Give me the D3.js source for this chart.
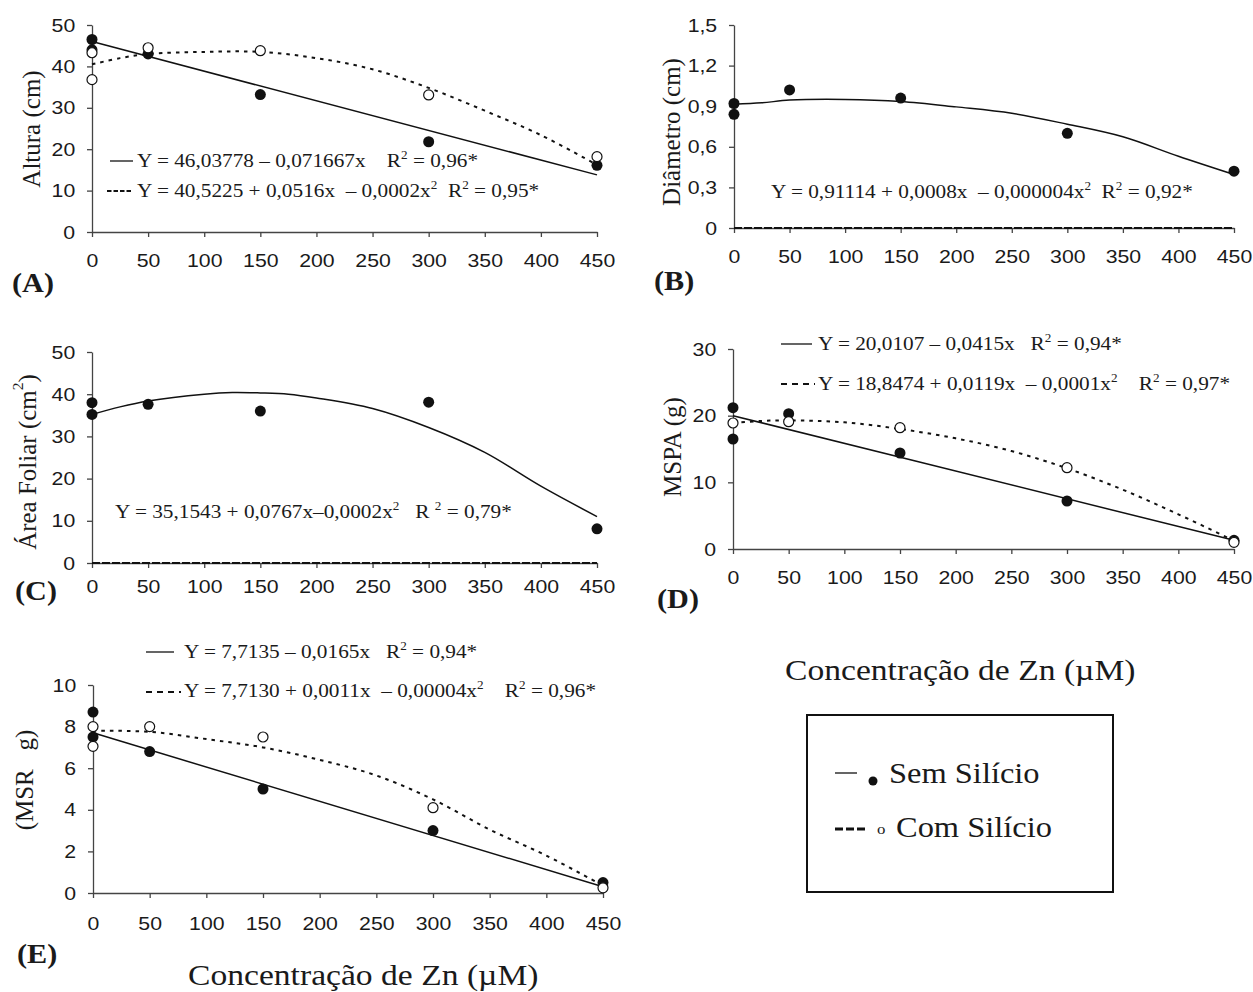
<!DOCTYPE html>
<html>
<head>
<meta charset="utf-8">
<script src="https://cdn.jsdelivr.net/npm/d3@7"></script>
<style>
  body { margin: 0; background: #fff; }
  svg text { white-space: pre; }
</style>
</head>
<body>
<svg id="fig" width="1253" height="992"></svg>
<script>
// Zn concentration ticks (µM)
var xTicks = [0, 50, 100, 150, 200, 250, 300, 350, 400, 450];

// (A) Altura (cm)
var altSemX = [0, 0, 50, 150, 300, 450];
var altSemY = [46.5, 44.0, 43.0, 33.2, 21.8, 16.1];
var altComX = [0, 0, 50, 150, 300, 450];
var altComY = [43.3, 36.8, 44.5, 43.8, 33.1, 18.2];
var altSemFitX = [0, 450];
var altSemFitY = [46.0, 13.8];
var altComFitX = [0, 25, 50, 100, 150, 200, 250, 300, 350, 400, 450];
var altComFitY = [40.5, 42.0, 43.0, 43.5, 43.5, 42.0, 39.3, 34.8, 29.3, 23.4, 16.2];

// (B) Diametro (cm)
var diaSemX = [0, 0, 50, 150, 300, 450];
var diaSemY = [0.92, 0.84, 1.02, 0.96, 0.70, 0.42];
var diaSemFitX = [0, 25, 50, 100, 150, 200, 250, 300, 350, 400, 450];
var diaSemFitY = [0.915, 0.925, 0.945, 0.95, 0.935, 0.895, 0.848, 0.767, 0.674, 0.53, 0.395];
var diaComFitX = [0, 450];
var diaComFitY = [0, 0];

// (C) Area foliar (cm2)
var afSemX = [0, 0, 50, 150, 300, 450];
var afSemY = [38.0, 35.2, 37.6, 36.0, 38.1, 8.1];
var afSemFitX = [0, 25, 50, 100, 125, 150, 175, 200, 250, 300, 350, 400, 450];
var afSemFitY = [35.2, 37.0, 38.4, 40.0, 40.4, 40.3, 40.0, 39.1, 36.6, 32.1, 26.2, 18.2, 11.0];
var afComFitX = [0, 450];
var afComFitY = [0, 0];

// (D) MSPA (g)
var mspaSemX = [0, 0, 50, 150, 300, 450];
var mspaSemY = [21.2, 16.5, 20.3, 14.4, 7.2, 1.3];
var mspaComX = [0, 50, 150, 300, 450];
var mspaComY = [18.9, 19.1, 18.2, 12.2, 1.0];
var mspaSemFitX = [0, 450];
var mspaSemFitY = [20.0, 1.3];
var mspaComFitX = [0, 25, 50, 100, 150, 200, 250, 300, 350, 400, 450];
var mspaComFitY = [18.9, 19.2, 19.3, 19.0, 18.0, 16.6, 14.7, 12.1, 8.9, 5.2, 1.25];

// (E) MSR (g)
var msrSemX = [0, 0, 50, 150, 300, 450];
var msrSemY = [8.7, 7.5, 6.8, 5.0, 3.0, 0.5];
var msrComX = [0, 0, 50, 150, 300, 450];
var msrComY = [8.0, 7.05, 8.0, 7.5, 4.1, 0.25];
var msrSemFitX = [0, 450];
var msrSemFitY = [7.7, 0.3];
var msrComFitX = [0, 50, 100, 150, 200, 250, 300, 350, 400, 450];
var msrComFitY = [7.8, 7.75, 7.4, 7.0, 6.4, 5.65, 4.5, 3.05, 1.8, 0.35];

var SERIF = "'Liberation Serif', 'Times New Roman', serif";
var SANS = "'Liberation Sans', Arial, sans-serif";
var SX = 1.12;   // the scanned figure is a bit wider than tall
var INK = "#1a1a1a";

var svg = d3.select("#fig");

// text with ² rendered as superscript
function txt(parent, x, y, s, size, family, weight) {
    var g = parent.append("g").attr("transform", "translate(" + x + "," + y + ") scale(" + SX + ",1)");
    var t = g.append("text")
        .style("font-family", family)
        .style("font-size", size + "px")
        .style("font-weight", weight || "normal")
        .attr("fill", INK);
    var parts = s.split("²");
    parts.forEach(function(part, i) {
        if (i > 0) {
            t.append("tspan").attr("dy", -0.42 * size).style("font-size", (0.62 * size) + "px").text("2");
            t.append("tspan").attr("dy", 0.42 * size).text(part);
        } else {
            t.append("tspan").text(part);
        }
    });
    return t;
}

function vlabel(cx, cy, s, size) {
    var t = svg.append("text")
        .attr("transform", "translate(" + cx + "," + cy + ") rotate(-90)")
        .attr("text-anchor", "middle")
        .attr("dominant-baseline", "central")
        .style("font-family", SERIF)
        .style("font-size", size + "px")
        .attr("fill", INK);
    var parts = s.split("²");
    parts.forEach(function(part, i) {
        if (i > 0) {
            t.append("tspan").attr("dy", -0.42 * size).style("font-size", (0.62 * size) + "px").text("2");
            t.append("tspan").attr("dy", 0.42 * size).text(part);
        } else {
            t.append("tspan").text(part);
        }
    });
}

var panels = [
    { x0: 92, x1: 597, y0: 232, y1: 25, yMax: 50, yTicks: [0,10,20,30,40,50], fmt: d3.format("d"), xPad: 17,
      sem: [altSemX, altSemY], com: [altComX, altComY],
      semFit: [altSemFitX, altSemFitY], comFit: [altComFitX, altComFitY], comZero: false },
    { x0: 734, x1: 1234, y0: 228, y1: 25, yMax: 1.5, yTicks: [0,0.3,0.6,0.9,1.2,1.5],
      fmt: function(d) { return d === 0 ? "0" : d3.format(".1f")(d).replace(".", ","); }, xPad: 17,
      sem: [diaSemX, diaSemY], com: null,
      semFit: [diaSemFitX, diaSemFitY], comFit: [diaComFitX, diaComFitY], comZero: true },
    { x0: 92, x1: 597, y0: 563, y1: 352, yMax: 50, yTicks: [0,10,20,30,40,50], fmt: d3.format("d"), xPad: 12,
      sem: [afSemX, afSemY], com: null,
      semFit: [afSemFitX, afSemFitY], comFit: [afComFitX, afComFitY], comZero: true },
    { x0: 733, x1: 1234, y0: 549, y1: 349, yMax: 30, yTicks: [0,10,20,30], fmt: d3.format("d"), xPad: 17,
      sem: [mspaSemX, mspaSemY], com: [mspaComX, mspaComY],
      semFit: [mspaSemFitX, mspaSemFitY], comFit: [mspaComFitX, mspaComFitY], comZero: false },
    { x0: 93, x1: 603, y0: 893, y1: 685, yMax: 10, yTicks: [0,2,4,6,8,10], fmt: d3.format("d"), xPad: 19,
      sem: [msrSemX, msrSemY], com: [msrComX, msrComY],
      semFit: [msrSemFitX, msrSemFitY], comFit: [msrComFitX, msrComFitY], comZero: false }
];

function drawPanel(p) {
    var x = d3.scaleLinear().domain([0, 450]).range([p.x0, p.x1]);
    var y = d3.scaleLinear().domain([0, p.yMax]).range([p.y0, p.y1]);
    var g = svg.append("g");

    var ax = g.append("g")
        .attr("transform", "translate(0," + p.y0 + ")")
        .call(d3.axisBottom(x).tickValues(xTicks).tickSize(5).tickSizeOuter(0).tickPadding(p.xPad));
    var ay = g.append("g")
        .attr("transform", "translate(" + p.x0 + ",0)")
        .call(d3.axisLeft(y).tickValues(p.yTicks).tickFormat(p.fmt).tickSize(5).tickSizeOuter(0).tickPadding(10));

    [ax, ay].forEach(function(a) {
        a.select(".domain").attr("stroke", "#444").attr("stroke-width", 1.3);
        a.selectAll(".tick line").attr("stroke", "#444").attr("stroke-width", 1.3);
        a.selectAll(".tick text")
            .attr("fill", INK)
            .style("font-family", SANS)
            .style("font-size", "19px")
            .attr("transform", "scale(" + SX + ",1)");
    });

    var line = d3.line()
        .x(function(d) { return x(d[0]); })
        .y(function(d) { return y(d[1]); })
        .curve(d3.curveCatmullRom.alpha(0.5));

    if (p.comZero) {
        g.append("path").datum(d3.zip(p.comFit[0], p.comFit[1]))
            .attr("d", line).attr("fill", "none")
            .attr("stroke", "#111").attr("stroke-width", 2.2).attr("stroke-dasharray", "8,2");
    } else {
        g.append("path").datum(d3.zip(p.comFit[0], p.comFit[1]))
            .attr("d", line).attr("fill", "none")
            .attr("stroke", "#111").attr("stroke-width", 2).attr("stroke-dasharray", "3.5,5");
    }
    g.append("path").datum(d3.zip(p.semFit[0], p.semFit[1]))
        .attr("d", line).attr("fill", "none")
        .attr("stroke", "#111").attr("stroke-width", 1.5);

    g.selectAll("circle.sem").data(d3.zip(p.sem[0], p.sem[1])).enter()
        .append("circle").attr("class", "sem")
        .attr("cx", function(d) { return x(d[0]); })
        .attr("cy", function(d) { return y(d[1]); })
        .attr("r", 5.5).attr("fill", "#111");

    if (p.com) {
        g.selectAll("circle.com").data(d3.zip(p.com[0], p.com[1])).enter()
            .append("circle").attr("class", "com")
            .attr("cx", function(d) { return x(d[0]); })
            .attr("cy", function(d) { return y(d[1]); })
            .attr("r", 5).attr("fill", "#fff")
            .attr("stroke", "#111").attr("stroke-width", 1.2);
    }
}

panels.forEach(drawPanel);

// axis titles
vlabel(31, 129, "Altura (cm)", 25);
vlabel(671, 132, "Diâmetro (cm)", 25);
vlabel(27, 462, "Área Foliar (cm²)", 25);
vlabel(672, 447, "MSPA (g)", 25);
vlabel(24, 780, "(MSR   g)", 25);

// panel letters
txt(svg, 12, 292, "(A)", 27, SERIF, "bold");
txt(svg, 654, 290, "(B)", 27, SERIF, "bold");
txt(svg, 15, 600, "(C)", 27, SERIF, "bold");
txt(svg, 657, 608, "(D)", 27, SERIF, "bold");
txt(svg, 17, 963, "(E)", 27, SERIF, "bold");

// regression equations
var eqSize = 19;
function keySolid(x1, x2, yy) {
    svg.append("line").attr("x1", x1).attr("x2", x2).attr("y1", yy).attr("y2", yy)
        .attr("stroke", "#111").attr("stroke-width", 1.3);
}
function keyDash(x1, x2, yy, dash) {
    svg.append("line").attr("x1", x1).attr("x2", x2).attr("y1", yy).attr("y2", yy)
        .attr("stroke", "#111").attr("stroke-width", 2).attr("stroke-dasharray", dash);
}

keySolid(110, 133, 161);
txt(svg, 137, 167, "Y = 46,03778 – 0,071667x    R² = 0,96*", eqSize, SERIF);
keyDash(107, 133, 191, "4.5,2");
txt(svg, 137, 197, "Y = 40,5225 + 0,0516x  – 0,0002x²  R² = 0,95*", eqSize, SERIF);

txt(svg, 771, 198, "Y = 0,91114 + 0,0008x  – 0,000004x²  R² = 0,92*", eqSize, SERIF);

txt(svg, 115, 518, "Y = 35,1543 + 0,0767x–0,0002x²   R ² = 0,79*", eqSize, SERIF);

keySolid(781, 812, 344);
txt(svg, 818, 350, "Y = 20,0107 – 0,0415x   R² = 0,94*", eqSize, SERIF);
keyDash(781, 815, 384, "6,5");
txt(svg, 818, 390, "Y = 18,8474 + 0,0119x  – 0,0001x²    R² = 0,97*", eqSize, SERIF);

keySolid(146, 174, 652);
txt(svg, 184, 658, "Y = 7,7135 – 0,0165x   R² = 0,94*", eqSize, SERIF);
keyDash(146, 181, 692, "6,5");
txt(svg, 184, 697, "Y = 7,7130 + 0,0011x  – 0,00004x²    R² = 0,96*", eqSize, SERIF);

// shared x titles
txt(svg, 188, 985, "Concentração de Zn (µM)", 30, SERIF);
txt(svg, 785, 680, "Concentração de Zn (µM)", 30, SERIF);

// legend box
svg.append("rect").attr("x", 807).attr("y", 715).attr("width", 306).attr("height", 177)
    .attr("fill", "none").attr("stroke", "#111").attr("stroke-width", 2);
svg.append("line").attr("x1", 835).attr("x2", 857).attr("y1", 773).attr("y2", 773)
    .attr("stroke", "#111").attr("stroke-width", 1.3);
svg.append("circle").attr("cx", 873).attr("cy", 781).attr("r", 4.5).attr("fill", "#111");
txt(svg, 889, 783, "Sem Silício", 29, SERIF);
svg.append("line").attr("x1", 835).attr("x2", 867).attr("y1", 829).attr("y2", 829)
    .attr("stroke", "#111").attr("stroke-width", 3).attr("stroke-dasharray", "8,3");
txt(svg, 877, 834, "o", 15, SERIF);
txt(svg, 896, 837, "Com Silício", 29, SERIF);
</script>
</body>
</html>
